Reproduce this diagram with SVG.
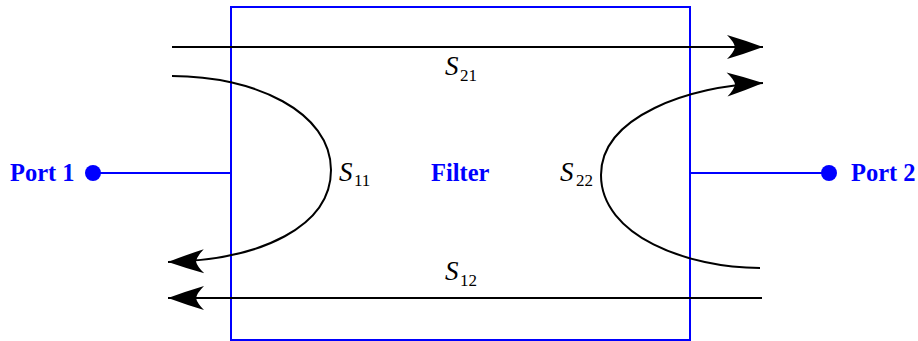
<svg xmlns="http://www.w3.org/2000/svg" width="918" height="341" viewBox="0 0 918 341">
<style>
.blue{stroke:#0000ff;stroke-width:2;fill:none}
.conn{stroke:#000;stroke-width:2;fill:none;marker-end:url(#ah)}
.lbl{font-family:"Liberation Serif","Times New Roman",serif;font-size:27px;fill:#000}
.sub{font-size:17px;font-style:normal}
.port{font-family:"Liberation Serif","Times New Roman",serif;font-size:24.5px;font-weight:bold;fill:#0000ff}
</style>
<defs>
<marker id="ah" markerUnits="userSpaceOnUse" markerWidth="42" markerHeight="32" viewBox="-39 -16 42 32" refX="0" refY="0" orient="auto">
<path d="M0,0 Q-19,-7 -36,-12 Q-29,-5 -28,0 Q-29,5 -36,12 Q-19,7 0,0 Z" fill="#000"/>
</marker>
</defs>
<rect fill="#fff" x="0" y="0" width="918" height="341"/>
<g id="filter">
<rect class="blue" x="231" y="7" width="459" height="333"/>
<text class="port" x="431" y="181">Filter</text>
</g>
<g id="port1">
<line class="blue" x1="93" y1="173" x2="231" y2="173"/>
<circle cx="93" cy="173" r="8" fill="#0000ff"/>
<text class="port" x="10" y="181">Port 1</text>
</g>
<g id="port2">
<line class="blue" x1="690" y1="173" x2="829" y2="173"/>
<circle cx="829" cy="173" r="8" fill="#0000ff"/>
<text class="port" x="851" y="181">Port 2</text>
</g>
<g id="connectors">
<path class="conn" d="M172,47 L763,47"/>
<path class="conn" d="M762,298 L168,298"/>
<path class="conn" d="M172,76 C255,76 331,112 331,170 C331,226 262,260 168,262"/>
<path class="conn" d="M760,268 C688,268 601,236 601,175 C601,116 690,86 763,83"/>
</g>
<g id="labels">
<text class="lbl" x="445" y="75"><tspan font-style="italic">S</tspan><tspan class="sub" x="460" dy="6">21</tspan></text>
<text class="lbl" x="339" y="181"><tspan font-style="italic">S</tspan><tspan class="sub" x="354" dy="5">11</tspan></text>
<text class="lbl" x="560" y="181"><tspan font-style="italic">S</tspan><tspan class="sub" x="576" dy="5">22</tspan></text>
<text class="lbl" x="445" y="280"><tspan font-style="italic">S</tspan><tspan class="sub" x="460" dy="6">12</tspan></text>
</g>
</svg>
